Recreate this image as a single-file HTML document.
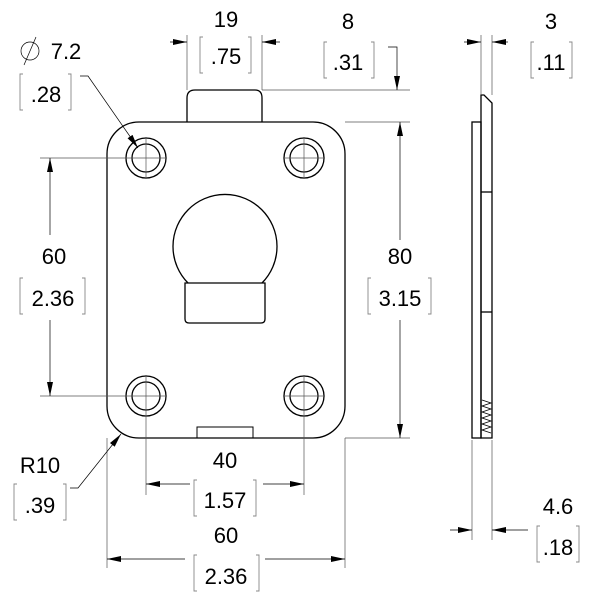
<!DOCTYPE html>
<html><head><style>html,body{margin:0;padding:0;background:#fff}svg{display:block}</style></head><body>
<svg width="600" height="600" viewBox="0 0 600 600" xmlns="http://www.w3.org/2000/svg" font-family="'Liberation Sans',sans-serif">
<defs>
<marker id="a" viewBox="0 0 14 6" refX="14" refY="3" markerWidth="14" markerHeight="6" orient="auto" markerUnits="userSpaceOnUse"><path d="M0,0L14,3L0,6z" fill="#000"/></marker>
</defs>
<g fill="none" stroke="#000" stroke-width="1.3">
<path d="M187,122V98Q187,90 195,90H255Q262,90 262,98V122"/>
<rect x="107" y="122" width="238" height="316" rx="32"/>
<circle cx="146" cy="158" r="20"/><circle cx="146" cy="158" r="14"/>
<circle cx="304" cy="158" r="20"/><circle cx="304" cy="158" r="14"/>
<circle cx="146" cy="396" r="20"/><circle cx="146" cy="396" r="14"/>
<circle cx="304" cy="396" r="20"/><circle cx="304" cy="396" r="14"/>
<path d="M188,283A52,52 0 1 1 262,283"/>
<path d="M185,283V319Q185,323 189,323H261Q265,323 265,319V283Z"/>
<path d="M197,438V427H253V438" stroke-width="1"/>
<rect x="472" y="122" width="9" height="316"/>
<path d="M481,438V95L484,95L492,103V438Z"/>
<line x1="481" y1="192" x2="492" y2="192"/><line x1="481" y1="312" x2="492" y2="312"/>
<path d="M482,400 L491,403 L482,406 L491,409 L482,412 L491,415 L482,418 L491,421 L482,424 L491,427 L482,430 L491,433" stroke-width="0.8"/>
</g>
<g stroke="#555" stroke-width="0.7" fill="none">
<path d="M146,137V179M125,158H167M304,137V179M283,158H325M146,375V417M125,396H167M304,375V417M283,396H325"/>
<path d="M187,35V90M262,35V90M262,90H410M345,122H410M345,438H410M40,158H126M40,396H126M146,417V495M304,417V495M107,438V568M345,438V568M481,35V95M492,35V95M472,440V540M492,440V540"/>
</g>
<g stroke="#000" stroke-width="0.7" fill="none">
<line x1="170" y1="42" x2="187" y2="42" marker-end="url(#a)"/>
<line x1="280" y1="42" x2="262" y2="42" marker-end="url(#a)"/>
<path d="M388,47H397V90" marker-end="url(#a)"/>
<line x1="400" y1="240" x2="400" y2="122" marker-end="url(#a)"/>
<line x1="400" y1="320" x2="400" y2="438" marker-end="url(#a)"/>
<line x1="50" y1="235" x2="50" y2="158" marker-end="url(#a)"/>
<line x1="50" y1="320" x2="50" y2="396" marker-end="url(#a)"/>
<line x1="190" y1="484" x2="146" y2="484" marker-end="url(#a)"/>
<line x1="263" y1="484" x2="304" y2="484" marker-end="url(#a)"/>
<line x1="185" y1="559" x2="107" y2="559" marker-end="url(#a)"/>
<line x1="265" y1="559" x2="345" y2="559" marker-end="url(#a)"/>
<line x1="464" y1="42" x2="481" y2="42" marker-end="url(#a)"/>
<line x1="508" y1="42" x2="492" y2="42" marker-end="url(#a)"/>
<line x1="450" y1="530" x2="472" y2="530" marker-end="url(#a)"/>
<line x1="528" y1="530" x2="492" y2="530" marker-end="url(#a)"/>
<path d="M80,76H88L138,148" marker-end="url(#a)"/>
<path d="M70,488H78L121,434" marker-end="url(#a)"/>
<circle cx="30" cy="51" r="9"/><line x1="24" y1="65" x2="36" y2="37"/>
</g>
<g stroke="#888" stroke-width="0.9" fill="none">
<path d="M203,37h-3v36h3M248,37h3v36h-3"/>
<path d="M327,42h-3v36h3M371,42h3v36h-3"/>
<path d="M534,42h-3v36h3M569,42h3v36h-3"/>
<path d="M23,74h-3v36h3M68,74h3v36h-3"/>
<path d="M23,278h-3v36h3M82,278h3v36h-3"/>
<path d="M371,278h-3v36h3M428,278h3v36h-3"/>
<path d="M17,484h-3v36h3M63,484h3v36h-3"/>
<path d="M197,480h-3v36h3M253,480h3v36h-3"/>
<path d="M197,555h-3v36h3M256,555h3v36h-3"/>
<path d="M540,526h-3v36h3M576,526h3v36h-3"/>
</g>
<g font-size="22" text-anchor="middle" fill="#000">
<text x="226" y="27">19</text><text x="226" y="64">.75</text>
<text x="348" y="29">8</text><text x="348" y="70">.31</text>
<text x="551" y="29">3</text><text x="551" y="70">.11</text>
<text x="66" y="59">7.2</text><text x="46" y="102">.28</text>
<text x="54" y="264">60</text><text x="53" y="306">2.36</text>
<text x="400" y="264">80</text><text x="400" y="306">3.15</text>
<text x="40" y="473">R10</text><text x="40" y="513">.39</text>
<text x="225" y="468">40</text><text x="225" y="508">1.57</text>
<text x="226" y="543">60</text><text x="226" y="584">2.36</text>
<text x="558" y="514">4.6</text><text x="558" y="555">.18</text>
</g>
</svg>
</body></html>
